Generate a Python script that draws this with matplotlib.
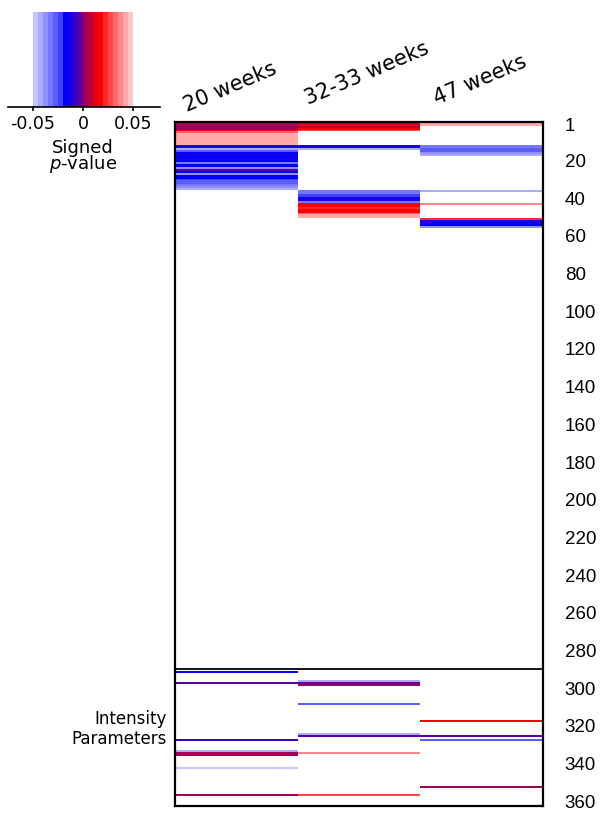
import numpy as np
import matplotlib
matplotlib.use('Agg')
import matplotlib.pyplot as plt
import matplotlib.transforms as mtransforms
from matplotlib.colors import ListedColormap, BoundaryNorm

plt.rcParams['font.family'] = 'DejaVu Sans'
plt.rcParams['axes.unicode_minus'] = False

# columns
groups = ['20 weeks', '32-33 weeks', '47 weeks']
n_rows = 362
divider_row = 290.2
row_ticks = [1, 20, 40, 60, 80, 100, 120, 140, 160, 180, 200, 220, 240,
             260, 280, 300, 320, 340, 360]

# signed p-values per row (row numbers are 1-based)
rows_20wk = [1, 2, 3, 4, 5, 6, 7, 8, 9, 10, 11, 12, 13, 14, 15, 16,
             17, 18, 19, 20, 21, 22, 23, 24, 25, 26, 27, 28, 29, 30,
             31, 32, 33, 34, 35, 36,
             292, 298, 328, 334, 335, 336, 343, 357]
pval_20wk = [0.002, 0.002, 0.002, 0.002, 0.017, 0.032, 0.042, 0.042, 0.042, 0.042, 0.042, 0.042,
             -0.011, -0.011, -0.042, -0.027,
             -0.017, -0.012, -0.017, -0.012, -0.017, -0.032, -0.017, -0.017, -0.04, -0.002,
             -0.017, -0.037, -0.017, -0.017,
             -0.022, -0.027, -0.027, -0.032, -0.037, -0.042,
             -0.017, -0.003, -0.007, -0.045, 0.002, 0.002, -0.047, 0.002]

rows_32wk = [1, 2, 3, 4, 5, 13, 14, 15,
             37, 38, 39, 40, 41, 42, 43, 44, 45, 46, 47, 48, 49, 50, 51,
             297, 298, 299, 309, 325, 326, 335, 357]
pval_32wk = [0.007, 0.012, 0.007, 0.017, 0.027, -0.011, -0.011, -0.042,
             -0.032, -0.032, -0.025, -0.025, -0.012, -0.012, -0.032,
             0.017, 0.017, 0.022, 0.017, 0.017, 0.032, 0.042, 0.042,
             -0.042, -0.003, 0.002, -0.027, -0.045, -0.003, 0.037, 0.027]

rows_47wk = [1, 2, 13, 14, 15, 16, 17, 18, 37, 44, 52, 53, 54, 55, 56,
             318, 326, 328, 353]
pval_47wk = [0.042, 0.042, -0.032, -0.032, -0.03, -0.03, -0.037, -0.042,
             -0.042, 0.037, 0.022, -0.012, -0.012, -0.017, -0.037,
             0.017, -0.003, -0.027, 0.002]

band_colors = ['#c4c4ff', '#acacff', '#9090ff', '#7878ff', '#5c5cff', '#4040ff',
               '#0000ff', '#1800e8', '#3800c8', '#6000a0', '#a00058', '#c00038',
               '#e00018', '#ff0000', '#ff2828', '#ff4848', '#ff6868', '#ff8888',
               '#ffa8a8', '#ffc8c8']
bounds = np.linspace(-0.05, 0.05, 21)
cmap = ListedColormap(band_colors)
cmap.set_bad('white')
norm = BoundaryNorm(bounds, cmap.N)

mat = np.full((n_rows, 3), np.nan)
for j, (rr, vv) in enumerate([(rows_20wk, pval_20wk), (rows_32wk, pval_32wk),
                              (rows_47wk, pval_47wk)]):
    for r, v in zip(rr, vv):
        mat[r - 1, j] = v

W, H = 602, 813
fig = plt.figure(figsize=(W / 100, H / 100), dpi=100)

ax = fig.add_axes([175 / W, (H - 806) / H, 368 / W, 684 / H])
ax.imshow(mat, cmap=cmap, norm=norm, aspect='auto', interpolation='nearest',
          extent=(-0.5, 2.5, n_rows + 0.5, 0.5))
ax.set_xlim(-0.5, 2.5)
ax.set_ylim(363, 0)
ax.set_xticks([])
ax.set_yticks([])
for s in ax.spines.values():
    s.set_linewidth(1.6)
ax.axhline(divider_row, color='black', lw=1.3)

trans = mtransforms.blended_transform_factory(ax.transAxes, ax.transData)
for r in row_ticks:
    ax.text(1.059, r + 1.5, str(r), transform=trans, ha='left', va='center',
            fontsize=13.5, family='Liberation Sans', clip_on=False)

# column labels
label_pos = [(187, 112), (308, 105), (437, 105)]
for g, (px, py) in zip(groups, label_pos):
    fig.text(px / W, 1 - py / H, g, rotation=23, rotation_mode='anchor',
             ha='left', va='baseline', fontsize=15)

fig.text(167 / W, 1 - 729 / H, 'Intensity\nParameters', ha='right', va='center',
         fontsize=12, linespacing=1.15)

# colour key
cax = fig.add_axes([8 / W, 1 - 107 / H, 152 / W, 95 / H])
centers = (bounds[:-1] + bounds[1:]) / 2
cax.pcolormesh(bounds, [0, 1], centers[None, :], cmap=cmap, norm=norm)
cax.set_xlim(-0.075, 0.0767)
cax.set_ylim(0, 1)
for side in ['left', 'right', 'top']:
    cax.spines[side].set_visible(False)
cax.spines['bottom'].set_linewidth(1.2)
cax.set_yticks([])
cax.set_xticks([-0.05, 0, 0.05])
cax.set_xticklabels(['-0.05', '0', '0.05'], fontsize=12.5)
cax.tick_params(axis='x', length=3, width=1.2, pad=3)

fig.text(83 / W, 1 - 157 / H, 'Signed\n$p$-value', ha='center', va='center',
         multialignment='center', fontsize=13, linespacing=0.8)

fig.savefig('out.png', dpi=100)
